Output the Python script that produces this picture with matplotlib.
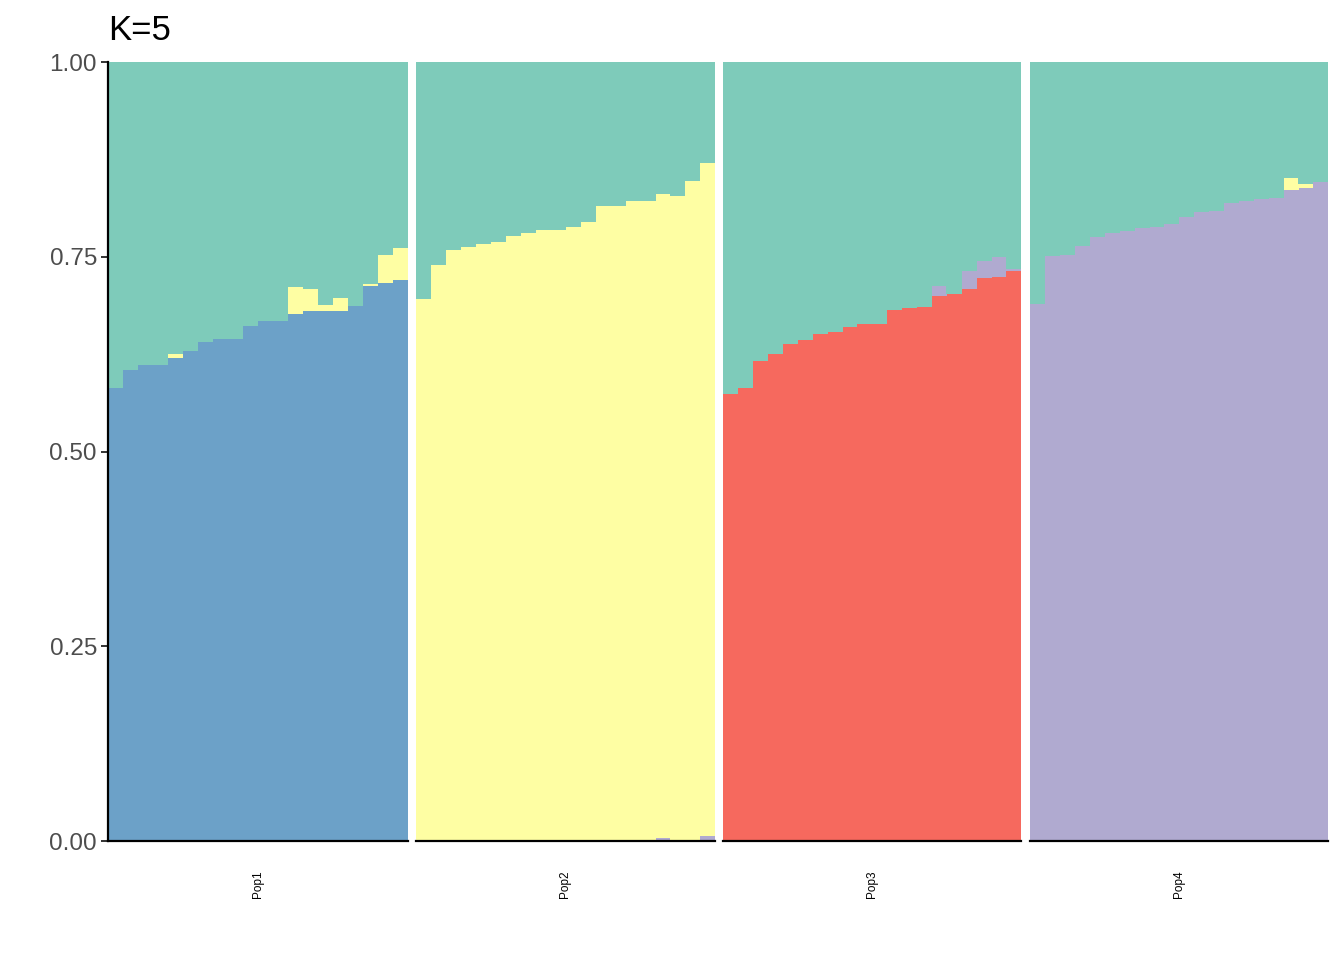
import matplotlib
matplotlib.use("Agg")
import matplotlib.pyplot as plt
import numpy as np

plt.rcParams['font.family'] = ['Liberation Sans', 'DejaVu Sans']

title = "K=5"
populations = ["Pop1", "Pop2", "Pop3", "Pop4"]
clusters = ["blue", "red", "purple", "yellow", "green"]
cluster_colors = {"blue": "#6CA1C8", "red": "#F6695E", "purple": "#B0AAD0",
                  "yellow": "#FEFEA3", "green": "#7ECBBA"}
y_ticks = [0.0, 0.25, 0.5, 0.75, 1.0]
y_tick_labels = ["0.00", "0.25", "0.50", "0.75", "1.00"]

# cluster proportions per individual (20 per population)
pop1_blue = [0.582, 0.605, 0.611, 0.611, 0.620, 0.629, 0.641, 0.644, 0.644, 0.661,
             0.667, 0.667, 0.676, 0.680, 0.680, 0.680, 0.687, 0.712, 0.716, 0.720]
pop1_yellow = [0, 0, 0, 0, 0.005, 0, 0, 0, 0, 0,
               0, 0, 0.035, 0.029, 0.008, 0.017, 0, 0.003, 0.036, 0.041]

pop2_purple = [0, 0, 0, 0, 0, 0, 0, 0, 0, 0,
               0, 0, 0, 0, 0, 0, 0.004, 0, 0, 0.006]
pop2_yellow = [0.696, 0.739, 0.759, 0.763, 0.766, 0.769, 0.777, 0.781, 0.784, 0.784,
               0.788, 0.795, 0.815, 0.815, 0.822, 0.822, 0.827, 0.828, 0.847, 0.864]

pop3_red = [0.574, 0.582, 0.616, 0.625, 0.638, 0.643, 0.651, 0.653, 0.660, 0.664,
            0.664, 0.682, 0.684, 0.686, 0.700, 0.702, 0.709, 0.723, 0.724, 0.732]
pop3_purple = [0, 0, 0, 0, 0, 0, 0, 0, 0, 0,
               0, 0, 0, 0, 0.013, 0, 0.023, 0.021, 0.026, 0.002]

pop4_purple = [0.689, 0.751, 0.752, 0.764, 0.775, 0.780, 0.783, 0.787, 0.788, 0.792,
               0.801, 0.807, 0.809, 0.819, 0.821, 0.824, 0.826, 0.836, 0.838, 0.846]
pop4_yellow = [0, 0, 0, 0, 0, 0, 0, 0, 0, 0,
               0, 0, 0, 0, 0, 0, 0, 0.015, 0.006, 0]

pop_data = {
    "Pop1": {"blue": pop1_blue, "yellow": pop1_yellow},
    "Pop2": {"purple": pop2_purple, "yellow": pop2_yellow},
    "Pop3": {"red": pop3_red, "purple": pop3_purple},
    "Pop4": {"purple": pop4_purple, "yellow": pop4_yellow},
}

W, H = 1344, 960
fig = plt.figure(figsize=(W / 100, H / 100), dpi=100)
panel_left = [108, 416, 723, 1030]
panel_width = [300, 299, 298, 298]
bottom_px, top_px = 841, 62

for i, pop in enumerate(populations):
    ax = fig.add_axes([panel_left[i] / W, (H - bottom_px) / H,
                       panel_width[i] / W, (bottom_px - top_px) / H])
    data = pop_data[pop]
    n = len(next(iter(data.values())))
    x = np.arange(1, n + 1)
    base = np.zeros(n)
    for c in clusters[:-1]:
        if c in data:
            v = np.array(data[c], dtype=float)
            ax.bar(x, v, bottom=base, width=1.05, color=cluster_colors[c],
                   linewidth=0, align='center')
            base = base + v
    ax.bar(x, 1.0 - base, bottom=base, width=1.05, color=cluster_colors["green"],
           linewidth=0, align='center')
    ax.set_xlim(0.5, n + 0.5)
    ax.set_ylim(0, 1)
    for s in ["top", "right"]:
        ax.spines[s].set_visible(False)
    ax.spines["bottom"].set_linewidth(1.6)
    ax.spines["bottom"].set_color("black")
    ax.spines["bottom"].set_zorder(5)
    ax.set_xticks([(n + 1) / 2])
    ax.set_xticklabels([pop], rotation=90, fontsize=8.5, color="black")
    ax.tick_params(axis='x', length=0, pad=21)
    if i == 0:
        ax.spines["left"].set_linewidth(1.6)
        ax.spines["left"].set_color("black")
        ax.spines["left"].set_zorder(5)
        ax.set_yticks(y_ticks)
        ax.set_yticklabels(y_tick_labels, fontsize=17.5, color="#4D4D4D")
        ax.tick_params(axis='y', length=5, width=1.4, color="#333333", pad=3)
        ax.set_title(title, loc='left', fontsize=25, pad=16)
    else:
        ax.spines["left"].set_visible(False)
        ax.set_yticks([])

fig.savefig("out.png", dpi=100)
